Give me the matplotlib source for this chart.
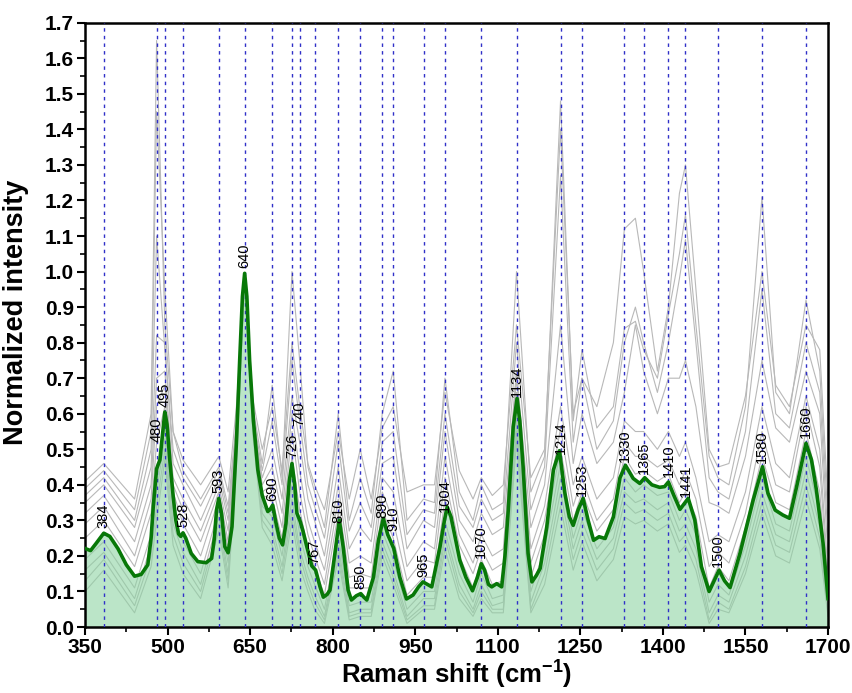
import matplotlib
matplotlib.use("Agg")
import matplotlib.pyplot as plt
import numpy as np

plt.rcParams['font.family'] = ['Liberation Sans', 'DejaVu Sans']
plt.rcParams['mathtext.fontset'] = 'custom'
plt.rcParams['mathtext.rm'] = 'Liberation Sans'
plt.rcParams['mathtext.bf'] = 'Liberation Sans:bold'

# mean spectrum (green)
mean_x = [350, 360, 370, 384, 395, 410, 425, 440, 452, 464, 470, 474, 480, 486, 490, 495, 499, 504,
          510, 515, 520, 524, 528, 533, 543, 555, 570, 580, 585, 589, 593, 598, 604, 610, 617, 621,
          625, 631, 636, 640, 644, 649, 656, 664, 672, 682, 686, 691, 696, 703, 709, 715, 721, 726,
          731, 735, 741, 746, 753, 762, 769, 777, 783, 790, 795, 804, 812, 819, 828, 834, 843, 851,
          856, 862, 874, 883, 892, 900, 911, 922, 934, 946, 956, 964, 972, 980, 995, 1003, 1008,
          1015, 1031, 1042, 1054, 1063, 1070, 1076, 1083, 1089, 1098, 1107, 1113, 1119, 1128, 1135,
          1140, 1146, 1155, 1162, 1170, 1177, 1189, 1201, 1212, 1222, 1230, 1237, 1246, 1255, 1264,
          1274, 1284, 1295, 1310, 1322, 1332, 1346, 1358, 1367, 1380, 1394, 1403, 1410, 1420, 1431,
          1446, 1458, 1470, 1484, 1493, 1502, 1512, 1522, 1540, 1564, 1581, 1591, 1604, 1618, 1630,
          1643, 1660, 1670, 1679, 1691, 1700]
mean_y = [0.221, 0.215, 0.235, 0.264, 0.255, 0.22, 0.175, 0.143, 0.148, 0.175, 0.25, 0.34, 0.445,
          0.47, 0.53, 0.605, 0.57, 0.47, 0.37, 0.30, 0.262, 0.255, 0.265, 0.25, 0.207, 0.184, 0.181,
          0.193, 0.25, 0.33, 0.362, 0.32, 0.226, 0.209, 0.282, 0.40, 0.517, 0.751, 0.93, 0.995,
          0.93, 0.751, 0.58, 0.442, 0.37, 0.325, 0.33, 0.343, 0.30, 0.25, 0.231, 0.29, 0.41, 0.46,
          0.40, 0.32, 0.297, 0.27, 0.226, 0.172, 0.16, 0.113, 0.084, 0.092, 0.104, 0.207, 0.301,
          0.226, 0.104, 0.076, 0.088, 0.094, 0.085, 0.076, 0.14, 0.243, 0.306, 0.26, 0.221, 0.14,
          0.079, 0.09, 0.113, 0.127, 0.12, 0.113, 0.226, 0.30, 0.338, 0.31, 0.188, 0.14, 0.102,
          0.14, 0.178, 0.16, 0.12, 0.113, 0.122, 0.113, 0.20, 0.329, 0.563, 0.643, 0.58, 0.451,
          0.207, 0.127, 0.145, 0.165, 0.282, 0.442, 0.496, 0.376, 0.31, 0.286, 0.33, 0.362, 0.301,
          0.244, 0.254, 0.249, 0.31, 0.42, 0.455, 0.418, 0.404, 0.42, 0.40, 0.393, 0.395, 0.408,
          0.37, 0.331, 0.362, 0.301, 0.17, 0.10, 0.13, 0.16, 0.13, 0.111, 0.207, 0.357, 0.451,
          0.376, 0.329, 0.315, 0.306, 0.395, 0.517, 0.47, 0.385, 0.236, 0.08]

# individual spectra (grey), sampled at the same shifts
spec_x = [350, 384, 440, 470, 480, 495, 510, 528, 560, 593, 610, 625, 640, 655, 672, 690, 708, 726,
          740, 755, 767, 785, 810, 830, 850, 870, 890, 910, 935, 965, 985, 1004, 1030, 1055, 1070,
          1090, 1110, 1134, 1160, 1185, 1214, 1237, 1253, 1280, 1310, 1330, 1350, 1365, 1390, 1410,
          1430, 1441, 1460, 1484, 1500, 1520, 1550, 1580, 1605, 1630, 1660, 1685, 1700]
spec_u1 = [0.41, 0.46, 0.36, 0.60, 1.65, 0.85, 0.55, 0.47, 0.40, 0.48, 0.38, 0.62, 0.98, 0.64, 0.50,
           0.62, 0.44, 0.80, 0.62, 0.46, 0.40, 0.33, 0.55, 0.36, 0.50, 0.36, 0.56, 0.62, 0.38, 0.40,
           0.40, 0.66, 0.44, 0.36, 0.42, 0.37, 0.40, 0.85, 0.42, 0.50, 1.40, 0.60, 0.70, 0.62, 0.80,
           1.12, 1.15, 1.00, 0.72, 0.90, 1.22, 1.30, 0.95, 0.50, 0.45, 0.46, 0.65, 1.00, 0.68, 0.62,
           0.85, 0.78, 0.35]
spec_u2 = [0.39, 0.44, 0.33, 0.55, 1.45, 0.95, 0.55, 0.44, 0.36, 0.45, 0.34, 0.58, 0.99, 0.62, 0.46,
           0.68, 0.42, 1.00, 0.75, 0.45, 0.38, 0.28, 0.60, 0.30, 0.42, 0.32, 0.60, 0.72, 0.30, 0.36,
           0.35, 0.70, 0.38, 0.30, 0.40, 0.33, 0.35, 1.00, 0.38, 0.48, 1.48, 0.58, 0.78, 0.56, 0.62,
           0.84, 0.86, 0.78, 0.70, 0.88, 1.05, 1.16, 0.85, 0.48, 0.42, 0.40, 0.62, 1.21, 0.66, 0.60,
           0.92, 0.72, 0.30]
spec_u3 = [0.37, 0.42, 0.30, 0.50, 1.10, 0.78, 0.50, 0.42, 0.34, 0.44, 0.32, 0.56, 0.97, 0.60, 0.44,
           0.58, 0.40, 0.75, 0.58, 0.40, 0.34, 0.25, 0.52, 0.27, 0.35, 0.28, 0.52, 0.55, 0.26, 0.33,
           0.32, 0.60, 0.34, 0.28, 0.36, 0.30, 0.32, 0.80, 0.33, 0.45, 1.27, 0.52, 0.70, 0.50, 0.58,
           0.80, 0.90, 0.80, 0.66, 0.80, 0.98, 1.09, 0.80, 0.42, 0.38, 0.36, 0.55, 0.95, 0.60, 0.56,
           0.80, 0.66, 0.25]
spec_u4 = [0.35, 0.40, 0.28, 0.45, 0.82, 0.80, 0.46, 0.40, 0.30, 0.42, 0.30, 0.55, 0.98, 0.58, 0.42,
           0.50, 0.36, 0.65, 0.52, 0.36, 0.30, 0.20, 0.45, 0.22, 0.28, 0.24, 0.46, 0.48, 0.22, 0.30,
           0.28, 0.55, 0.30, 0.24, 0.32, 0.26, 0.28, 0.72, 0.28, 0.40, 0.85, 0.46, 0.60, 0.46, 0.52,
           0.66, 0.85, 0.72, 0.60, 0.70, 0.70, 0.75, 0.62, 0.35, 0.34, 0.32, 0.48, 0.75, 0.56, 0.52,
           0.72, 0.60, 0.20]
spec_m1 = [0.32, 0.37, 0.24, 0.40, 0.70, 0.72, 0.42, 0.36, 0.27, 0.40, 0.27, 0.54, 0.99, 0.60, 0.40,
           0.45, 0.32, 0.60, 0.44, 0.30, 0.24, 0.16, 0.40, 0.18, 0.20, 0.18, 0.42, 0.38, 0.17, 0.24,
           0.22, 0.48, 0.26, 0.18, 0.26, 0.20, 0.22, 0.70, 0.22, 0.34, 0.62, 0.40, 0.48, 0.36, 0.42,
           0.58, 0.55, 0.55, 0.50, 0.55, 0.48, 0.52, 0.42, 0.24, 0.26, 0.24, 0.38, 0.62, 0.46, 0.42,
           0.65, 0.50, 0.15]
spec_m2 = [0.29, 0.34, 0.20, 0.36, 0.62, 0.68, 0.40, 0.33, 0.24, 0.38, 0.24, 0.52, 0.98, 0.58, 0.38,
           0.40, 0.28, 0.55, 0.38, 0.26, 0.20, 0.12, 0.36, 0.14, 0.15, 0.14, 0.38, 0.30, 0.13, 0.19,
           0.18, 0.42, 0.23, 0.15, 0.22, 0.16, 0.18, 0.72, 0.18, 0.30, 0.56, 0.34, 0.42, 0.30, 0.36,
           0.52, 0.48, 0.48, 0.45, 0.47, 0.40, 0.44, 0.36, 0.17, 0.21, 0.18, 0.32, 0.55, 0.40, 0.38,
           0.62, 0.45, 0.12]
spec_m3 = [0.25, 0.30, 0.17, 0.32, 0.52, 0.62, 0.38, 0.29, 0.20, 0.36, 0.22, 0.50, 0.99, 0.60, 0.37,
           0.36, 0.25, 0.48, 0.33, 0.22, 0.17, 0.09, 0.32, 0.11, 0.11, 0.11, 0.33, 0.25, 0.09, 0.14,
           0.14, 0.36, 0.20, 0.11, 0.19, 0.12, 0.13, 0.66, 0.14, 0.26, 0.50, 0.30, 0.38, 0.27, 0.33,
           0.48, 0.43, 0.44, 0.41, 0.43, 0.35, 0.38, 0.31, 0.11, 0.17, 0.13, 0.28, 0.48, 0.35, 0.33,
           0.55, 0.38, 0.09]
spec_l1 = [0.19, 0.24, 0.11, 0.26, 0.42, 0.56, 0.32, 0.24, 0.15, 0.33, 0.18, 0.48, 0.99, 0.58, 0.34,
           0.31, 0.20, 0.40, 0.26, 0.17, 0.12, 0.05, 0.26, 0.06, 0.07, 0.07, 0.27, 0.19, 0.05, 0.10,
           0.10, 0.30, 0.15, 0.07, 0.15, 0.08, 0.09, 0.62, 0.10, 0.22, 0.46, 0.25, 0.33, 0.22, 0.28,
           0.42, 0.38, 0.40, 0.37, 0.38, 0.30, 0.33, 0.26, 0.07, 0.12, 0.09, 0.23, 0.42, 0.29, 0.27,
           0.48, 0.32, 0.07]
spec_l2 = [0.16, 0.21, 0.08, 0.23, 0.38, 0.53, 0.29, 0.21, 0.12, 0.31, 0.15, 0.47, 0.98, 0.56, 0.32,
           0.28, 0.17, 0.36, 0.22, 0.14, 0.09, 0.03, 0.23, 0.04, 0.05, 0.05, 0.24, 0.16, 0.03, 0.08,
           0.08, 0.27, 0.12, 0.05, 0.12, 0.06, 0.07, 0.58, 0.07, 0.18, 0.42, 0.22, 0.30, 0.19, 0.25,
           0.38, 0.35, 0.36, 0.33, 0.35, 0.27, 0.29, 0.22, 0.04, 0.09, 0.07, 0.20, 0.38, 0.26, 0.24,
           0.44, 0.28, 0.05]
spec_l3 = [0.13, 0.19, 0.06, 0.20, 0.34, 0.50, 0.26, 0.18, 0.10, 0.29, 0.13, 0.46, 0.99, 0.55, 0.30,
           0.26, 0.15, 0.33, 0.20, 0.12, 0.07, 0.02, 0.21, 0.03, 0.04, 0.04, 0.22, 0.14, 0.02, 0.06,
           0.06, 0.25, 0.10, 0.04, 0.10, 0.05, 0.05, 0.55, 0.05, 0.15, 0.38, 0.19, 0.27, 0.16, 0.22,
           0.35, 0.32, 0.33, 0.30, 0.32, 0.24, 0.26, 0.19, 0.02, 0.07, 0.05, 0.17, 0.35, 0.23, 0.21,
           0.40, 0.25, 0.04]
spec_l4 = [0.10, 0.16, 0.04, 0.17, 0.30, 0.47, 0.23, 0.15, 0.08, 0.27, 0.11, 0.45, 0.98, 0.54, 0.28,
           0.23, 0.13, 0.30, 0.17, 0.10, 0.05, 0.01, 0.19, 0.02, 0.03, 0.03, 0.20, 0.12, 0.01, 0.05,
           0.05, 0.22, 0.08, 0.03, 0.08, 0.04, 0.04, 0.52, 0.04, 0.12, 0.34, 0.16, 0.24, 0.13, 0.19,
           0.31, 0.29, 0.30, 0.27, 0.29, 0.21, 0.23, 0.16, 0.01, 0.05, 0.04, 0.15, 0.32, 0.20, 0.18,
           0.36, 0.22, 0.03]
spectra = [spec_u1, spec_u2, spec_u3, spec_u4, spec_m1, spec_m2, spec_m3,
           spec_l1, spec_l2, spec_l3, spec_l4]

# assigned band positions (cm-1)
peaks = [384, 480, 495, 528, 593, 640, 690, 726, 740, 767, 810, 850, 890, 910, 965,
         1004, 1070, 1134, 1214, 1253, 1330, 1365, 1410, 1441, 1500, 1580, 1660]

fig = plt.figure(figsize=(8.53, 6.93), dpi=100)
ax = fig.add_axes([0.0997, 0.0952, 0.871, 0.872])

for s in spectra:
    ax.plot(spec_x, s, color='#b8b8b8', lw=0.8, zorder=1)

ax.fill_between(mean_x, 0, mean_y, color='#8fd4a4', alpha=0.6, lw=0, zorder=2)

for p in peaks:
    ax.axvline(p, color='#3030c8', lw=1.0, ls=(0, (2.5, 3)), zorder=3)

ax.plot(mean_x, mean_y, color='#087808', lw=2.6, zorder=4)

# a few labels sit higher to avoid overlap
lift = {480: 0.06, 740: 0.25, 910: 0.03}
for p in peaks:
    y = np.interp(p, mean_x, mean_y) + 0.015 + lift.get(p, 0)
    ax.text(p, y, str(p), rotation=90, ha='center', va='bottom', fontsize=10.5, zorder=5)

ax.set_xlim(350, 1700)
ax.set_ylim(0, 1.7)
ax.set_xticks(np.arange(350, 1701, 150))
ax.set_xticks(np.arange(350, 1701, 75), minor=True)
ax.set_yticks(np.arange(0, 1.71, 0.1))
ax.set_yticks(np.arange(0, 1.71, 0.05), minor=True)
ax.yaxis.set_major_formatter(matplotlib.ticker.FormatStrFormatter('%.1f'))
ax.tick_params(which='major', length=6, width=1.5, labelsize=15, direction='out', pad=2)
ax.tick_params(which='minor', length=3.5, width=1.2, direction='out')
for lab in ax.get_xticklabels() + ax.get_yticklabels():
    lab.set_fontweight('bold')
for sp in ax.spines.values():
    sp.set_linewidth(1.8)

ax.set_xlabel(r'Raman shift (cm$^{\mathbf{-1}}$)', fontsize=18.5, fontweight='bold', labelpad=0)
ax.set_ylabel('Normalized intensity', fontsize=19.5, fontweight='bold')
ax.yaxis.set_label_coords(-0.075, 0.52)

fig.savefig('out.png', dpi=100)
